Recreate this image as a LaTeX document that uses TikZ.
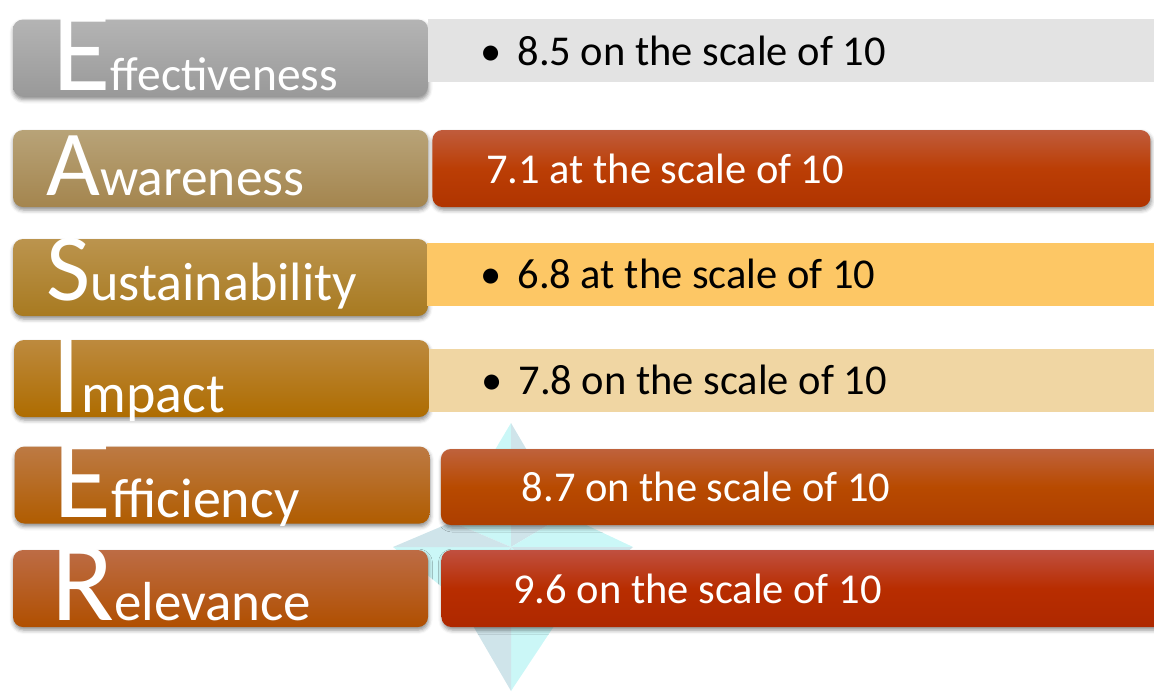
\documentclass[tikz,border=0pt]{standalone}
\usepackage{fontspec}
\setmainfont{Carlito}
\usetikzlibrary{positioning,shadows.blur}
\definecolor{starlight}{HTML}{CBF7F7}
\definecolor{stardark}{HTML}{CFE4EA}
\definecolor{barGray}{HTML}{E3E3E3}
\definecolor{barYellow}{HTML}{FDC765}
\definecolor{barTan}{HTML}{F0D6A3}
\tikzset{lbl/.style={rounded corners=10pt, inner sep=0pt, minimum width=415pt, minimum height=77pt, blur shadow={shadow xshift=0.5pt, shadow yshift=-3pt, shadow blur radius=4pt, shadow opacity=45}}}
\tikzset{flatbar/.style={inner sep=0pt, minimum width=727pt, minimum height=63pt}}
\tikzset{redbar/.style={rounded corners=10pt, inner sep=0pt, minimum height=77pt, blur shadow={shadow xshift=1pt, shadow yshift=-3pt, shadow blur radius=4pt, shadow opacity=45}}}
\tikzset{word/.style={anchor=base west, inner sep=0pt, text=white}}
\tikzset{score/.style={anchor=west, inner sep=0pt, font=\fontsize{42.5}{42.5}\selectfont}}
\newcommand{\capword}[4]{{\fontsize{#1}{#1}\selectfont #2}{\fontsize{#3}{#3}\selectfont #4}}

\begin{document}
\begin{tikzpicture}[x=1pt, y=-1pt]
	\useasboundingbox (0,0) rectangle (1154,691);

	% star behind the boxes
	\coordinate (C)  at (511,547);
	\coordinate (T)  at (511,423);
	\coordinate (Rt) at (633,547);
	\coordinate (B)  at (511,691);
	\coordinate (L)  at (393,547);
	\coordinate (UL) at (452,522);
	\coordinate (UR) at (565,515);
	\coordinate (LR) at (568,605);
	\coordinate (LL) at (458,600);
	\fill [starlight] (T) -- (C) -- (UL) -- cycle;
	\fill [stardark]  (T) -- (UR) -- (C) -- cycle;
	\fill [starlight] (Rt) -- (C) -- (UR) -- cycle;
	\fill [stardark]  (Rt) -- (LR) -- (C) -- cycle;
	\fill [starlight] (B) -- (C) -- (LR) -- cycle;
	\fill [stardark]  (B) -- (LL) -- (C) -- cycle;
	\fill [starlight] (L) -- (C) -- (LL) -- cycle;
	\fill [stardark]  (L) -- (UL) -- (C) -- cycle;

	\node [lbl, top color={rgb,255:red,180;green,180;blue,180}, bottom color={rgb,255:red,153;green,153;blue,153}]	(E1) at (220.5,58) {};
	\node [lbl, top color={rgb,255:red,184;green,163;blue,120}, bottom color={rgb,255:red,164;green,133;blue,78}]	(A)  at (220.5,168.5) {};
	\node [lbl, top color={rgb,255:red,187;green,148;blue,78}, bottom color={rgb,255:red,168;green,122;blue,32}]	(S)  at (220.5,277.5) {};
	\node [lbl, top color={rgb,255:red,189;green,138;blue,62}, bottom color={rgb,255:red,174;green,108;blue,0}]	(I)  at (221.5,378.5) {};
	\node [lbl, top color={rgb,255:red,189;green,122;blue,68}, bottom color={rgb,255:red,176;green,92;blue,0}]	(E2) at (222,485) {};
	\node [lbl, top color={rgb,255:red,189;green,108;blue,69}, bottom color={rgb,255:red,176;green,79;blue,0}]	(R)  at (220.5,588.5) {};

	\node [flatbar, fill=barGray, right=0pt of E1, yshift=7.5pt, minimum width=726pt]	(vE1) {};
	\node [redbar, right=4pt of A, minimum width=718pt, top color={rgb,255:red,192;green,92;blue,60}, bottom color={rgb,255:red,176;green,52;blue,0}, middle color={rgb,255:red,187;green,62;blue,5}]	(vA) {};
	\node [flatbar, fill=barYellow, right=-1pt of S, yshift=3.5pt]	(vS) {};
	\node [flatbar, fill=barTan, right=0pt of I, yshift=-1.5pt, minimum width=726pt]	(vI) {};
	\node [redbar, right=11pt of E2, yshift=-2pt, minimum width=740pt, minimum height=76pt, top color={rgb,255:red,191;green,98;blue,60}, bottom color={rgb,255:red,173;green,62;blue,0}, middle color={rgb,255:red,184;green,74;blue,0}]	(vE2) {};
	\node [redbar, right=13pt of R, minimum width=740pt, top color={rgb,255:red,192;green,80;blue,64}, bottom color={rgb,255:red,174;green,40;blue,0}, middle color={rgb,255:red,184;green,45;blue,0}]	(vR) {};

	\node [word]	(tE1) at (52,90)  {\capword{120}{E}{47.5}{ffectiveness}};
	\node [word]	(tA)  at (46,195) {\capword{93}{A}{53.5}{wareness}};
	\node [word]	(tS)  at (46,300) {\capword{96}{S}{54}{ustainability}};
	\node [word]	(tI)  at (51,412) {\capword{120}{I}{56}{mpact}};
	\node [word]	(tE2) at (53,517) {\capword{119}{E}{56}{fficiency}};
	\node [word]	(tR)  at (51,620) {\capword{116}{R}{55}{elevance}};

	\node [score, right=52pt of vE1.west]				(sE1) {\textbullet\hspace{16pt}8.5 on the scale of 10};
	\node [score, text=white, right=54pt of vA.west]	(sA)  {7.1 at the scale of 10};
	\node [score, right=53pt of vS.west]				(sS)  {\textbullet\hspace{16pt}6.8 at the scale of 10};
	\node [score, right=52pt of vI.west]				(sI)  {\textbullet\hspace{16pt}7.8 on the scale of 10};
	\node [score, text=white, right=81pt of vE2.west]	(sE2) {8.7 on the scale of 10};
	\node [score, text=white, right=72pt of vR.west]	(sR)  {9.6 on the scale of 10};
\end{tikzpicture}
\end{document}
